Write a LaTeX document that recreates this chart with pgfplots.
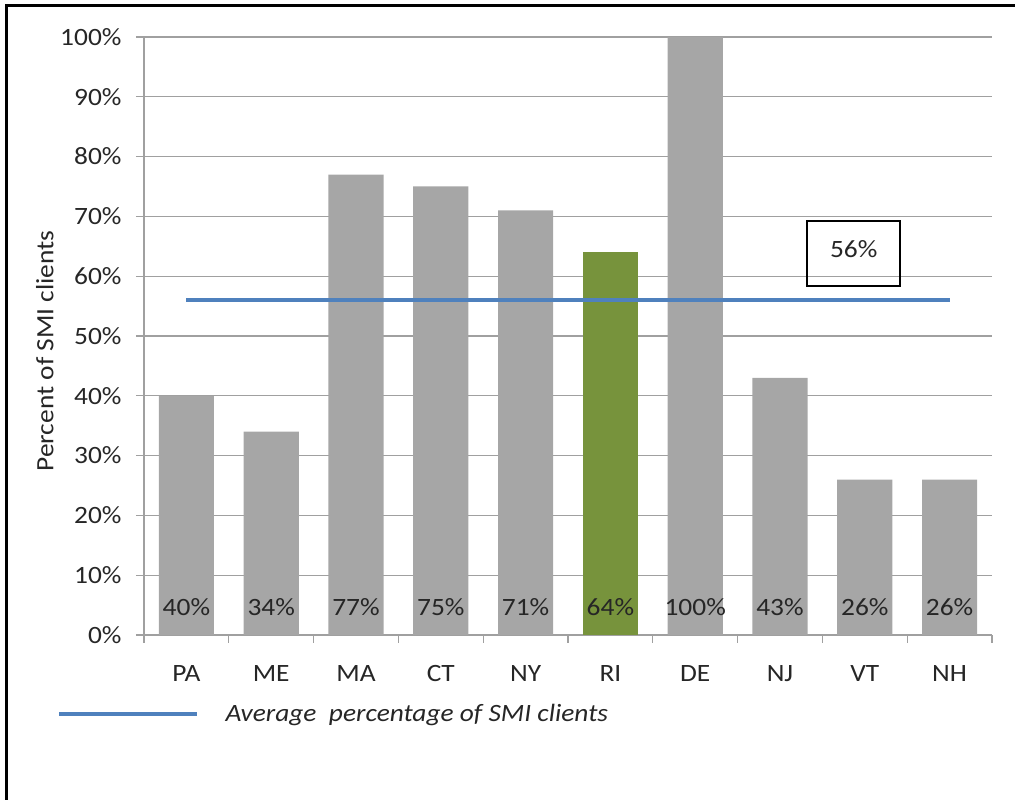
\documentclass[border=0pt]{standalone}
\usepackage{pgfplots}
\pgfplotsset{compat=1.18}
\usepackage{fontspec}
\setmainfont[FakeStretch=1.1]{Carlito}
\definecolor{bargray}{HTML}{A6A6A6}
\definecolor{rigreen}{HTML}{77933C}
\definecolor{avgblue}{HTML}{4F81BD}
\definecolor{gridgray}{HTML}{A0A0A0}
\definecolor{txt}{HTML}{262626}
\newcommand{\cf}{\fontsize{25}{30}\selectfont}
\begin{document}
\begin{tikzpicture}
\useasboundingbox (0,0) rectangle (1015bp,800bp);
\draw[line width=3bp] (6.5bp,0) -- (6.5bp,794.5bp) -- (1015bp,794.5bp);
\begin{axis}[
 at={(144bp,165bp)}, anchor=south west,
 scale only axis, width=848bp, height=598bp,
 xmin=-0.5, xmax=9.5, ymin=0, ymax=100,
 axis x line*=bottom, axis y line*=left,
 axis line style={gridgray, line width=1.2bp, -},
 xtick={0,...,9},
 xticklabels={PA,ME,MA,CT,NY,RI,DE,NJ,VT,NH},
 major x tick style={draw=none},
 minor xtick={-0.5,0.5,...,9.5},
 ytick={0,10,...,100},
 yticklabels={0\%,10\%,20\%,30\%,40\%,50\%,60\%,70\%,80\%,90\%,100\%},
 ymajorgrids, grid style={gridgray, line width=1.2bp},
 tick style={gridgray, line width=1.2bp},
 tick align=outside, major tick length=8bp, minor tick length=8bp,
 tick label style={font=\cf, text=txt},
 xticklabel style={yshift=-19bp, text height=16bp, text depth=0pt},
 yticklabel style={xshift=-11bp},
 ylabel={Percent of SMI clients},
 ylabel style={at={(axis description cs:-0.117,0.475)}, anchor=center, rotate=0, font=\cf, text=txt},
 legend style={at={(axis description cs:-0.1026,-0.132)}, anchor=west, draw=none, fill=none, inner sep=0pt, font=\cf\itshape, text=txt,
   /tikz/every odd column/.append style={column sep=24bp}},
 legend image code/.code={\draw[#1, line width=4.5bp] (0bp,0bp) -- (138bp,0bp);},
 clip=false,
]
\addplot[ybar, bar width=0.65, bar shift=0pt, fill=bargray, draw=none, forget plot]
 coordinates {(0,40) (1,34) (2,77) (3,75) (4,71) (6,100) (7,43) (8,26) (9,26)};
\addplot[ybar, bar width=0.65, bar shift=0pt, fill=rigreen, draw=none, forget plot]
 coordinates {(5,64)};
\addplot[draw=none, mark=none, forget plot, point meta=explicit symbolic,
 nodes near coords={\pgfplotspointmeta\%},
 every node near coord/.append style={anchor=center, font=\cf, text=txt}]
 coordinates {(0,4.6) [40] (1,4.6) [34] (2,4.6) [77] (3,4.6) [75] (4,4.6) [71] (5,4.6) [64] (6,4.6) [100] (7,4.6) [43] (8,4.6) [26] (9,4.6) [26]};
\addplot[avgblue, line width=4.5bp] coordinates {(0,56) (9,56)};
\addlegendentry{Average\ \ percentage of SMI clients}
\draw[black, line width=2bp] (axis cs:7.32,58.4) rectangle (axis cs:8.42,69.2);
\node[font=\cf, text=txt] at (axis cs:7.87,64.6) {56\%};
\end{axis}
\end{tikzpicture}
\end{document}
